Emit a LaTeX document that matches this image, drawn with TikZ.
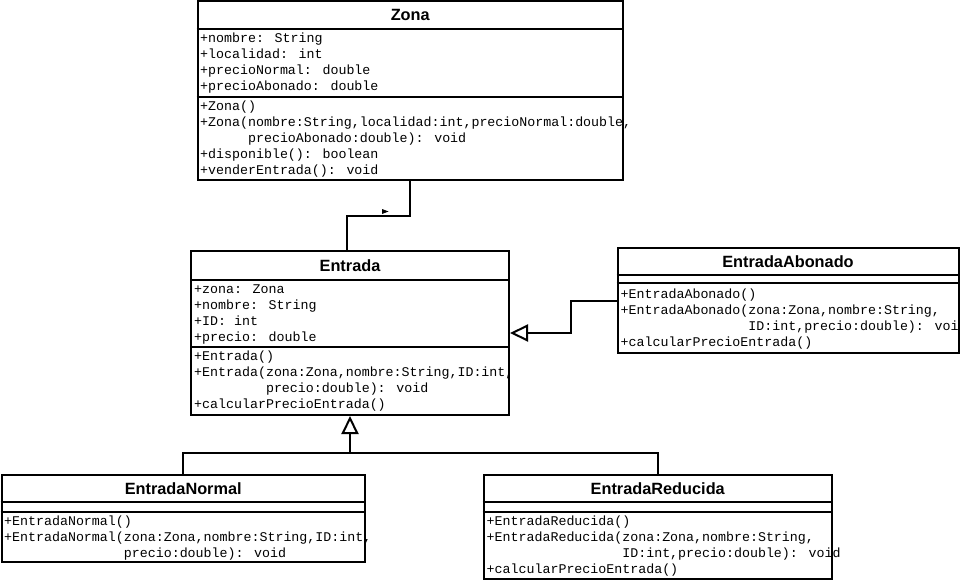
\documentclass[tikz,border=0pt]{standalone}
\usepackage{fontspec}
\setmainfont{Liberation Sans}
\newfontfamily\umlmono{Liberation Mono}
\usetikzlibrary{arrows.meta}
\tikzset{
  umlbox/.style={draw, line width=2pt, inner sep=0pt, fill=white},
  umlsep/.style={line width=2pt},
  umltitle/.style={font=\fontsize{16.3}{19}\selectfont\bfseries, inner sep=0pt},
  umltext/.style={font=\umlmono\fontsize{13.3}{16}\selectfont, align=left, anchor=north west, inner sep=0pt},
  conn/.style={line width=2pt},
  inherit/.style={conn, -{Triangle[open, length=18pt, width=17pt, fill=white]}},
}
\begin{document}
\begin{tikzpicture}[x=1pt, y=-1pt]
\useasboundingbox (0,0) rectangle (960,580);

% Zona
\node[umlbox, minimum width=425.5pt, minimum height=179.5pt] (zona) at (410.25,90.75) {};
\draw[umlsep] (zona.west |- 0,29) -- (zona.east |- 0,29);
\draw[umlsep] (zona.west |- 0,97) -- (zona.east |- 0,97);
\node[umltitle] (zona-title) at (410.25,15) {Zona};
\node[umltext] (zona-attr) at (200,30.8) {\strut+nombre: String\\\strut+localidad: int\\\strut+precioNormal: double\\\strut+precioAbonado: double};
\node[umltext] (zona-meth) at (200,98.8) {\strut+Zona()\\\strut+Zona(nombre:String,localidad:int,precioNormal:double,\\\strut\hspace*{3.6em}precioAbonado:double): void\\\strut+disponible(): boolean\\\strut+venderEntrada(): void};

% Entrada
\node[umlbox, minimum width=318pt, minimum height=164pt] (entrada) at (350,333) {};
\draw[umlsep] (entrada.west |- 0,279.5) -- (entrada.east |- 0,279.5);
\draw[umlsep] (entrada.west |- 0,347) -- (entrada.east |- 0,347);
\node[umltitle] (entrada-title) at (350,265.25) {Entrada};
\node[umltext] (entrada-attr) at (194,281.8) {\strut+zona: Zona\\\strut+nombre: String\\\strut+ID: int\\\strut+precio: double};
\node[umltext] (entrada-meth) at (194,348.8) {\strut+Entrada()\\\strut+Entrada(zona:Zona,nombre:String,ID:int,\\\strut\hspace*{5.4em}precio:double): void\\\strut+calcularPrecioEntrada()};

% EntradaAbonado
\node[umlbox, minimum width=341pt, minimum height=105pt] (abonado) at (788,300.5) {};
\draw[umlsep] (abonado.west |- 0,274.5) -- (abonado.east |- 0,274.5);
\draw[umlsep] (abonado.west |- 0,282.5) -- (abonado.east |- 0,282.5);
\node[umltitle] (abonado-title) at (788,261.25) {EntradaAbonado};
\node[umltext] (abonado-meth) at (620.5,286.8) {\strut+EntradaAbonado()\\\strut+EntradaAbonado(zona:Zona,nombre:String,\\\strut\hspace*{9.6em}ID:int,precio:double): void\\\strut+calcularPrecioEntrada()};

% EntradaNormal
\node[umlbox, minimum width=363.5pt, minimum height=86.5pt] (normal) at (183.25,518.25) {};
\draw[umlsep] (normal.west |- 0,502.3) -- (normal.east |- 0,502.3);
\draw[umlsep] (normal.west |- 0,511.7) -- (normal.east |- 0,511.7);
\node[umltitle] (normal-title) at (183.25,488.6) {EntradaNormal};
\node[umltext] (normal-meth) at (4,513.8) {\strut+EntradaNormal()\\\strut+EntradaNormal(zona:Zona,nombre:String,ID:int,\\\strut\hspace*{9em}precio:double): void};

% EntradaReducida
\node[umlbox, minimum width=348.5pt, minimum height=103.5pt] (reducida) at (657.75,526.75) {};
\draw[umlsep] (reducida.west |- 0,502.3) -- (reducida.east |- 0,502.3);
\draw[umlsep] (reducida.west |- 0,511.7) -- (reducida.east |- 0,511.7);
\node[umltitle] (reducida-title) at (657.75,488.6) {EntradaReducida};
\node[umltext] (reducida-meth) at (486.5,513.8) {\strut+EntradaReducida()\\\strut+EntradaReducida(zona:Zona,nombre:String,\\\strut\hspace*{10.2em}ID:int,precio:double): void\\\strut+calcularPrecioEntrada()};

% Connectors
\draw[conn] (zona.south) -- ++(0,34.5) -| ([xshift=-3pt]entrada.north);
\fill (382,209) -- (388.5,211.5) -- (382,214) -- cycle;
\draw[inherit] (abonado.west) -- ++(-45.5,0) |- (entrada.east);
\coordinate (split) at (350,453);
\draw[conn] (normal.north) |- (split) -| (reducida.north);
\draw[inherit] (split) -- (entrada.south);
\end{tikzpicture}
\end{document}
